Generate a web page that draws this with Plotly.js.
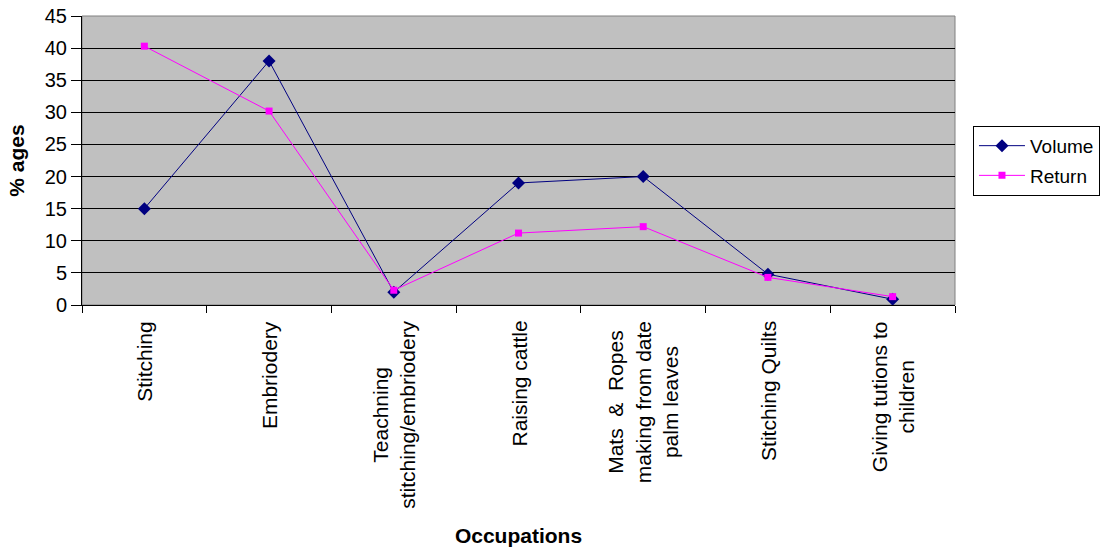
<!DOCTYPE html>
<html>
<head>
<meta charset="utf-8">
<script src="https://cdn.plot.ly/plotly-3.0.1.min.js"></script>
<style>html,body{margin:0;padding:0;background:#fff;}#chart{width:1109px;height:552px;}</style>
</head>
<body>
<div id="chart"></div>
<script>
const categories = ["Stitching", "Embriodery", "Teachning<br>stitching/embriodery", "Raising cattle", "Mats  &  Ropes<br>making from date<br>palm leaves", "Stitching Quilts", "Giving tutions to<br>children"];
const volume = [15, 38, 2, 19, 20, 4.8, 0.9];
const returnVals = [40.3, 30.2, 2.3, 11.2, 12.2, 4.3, 1.3];
const yTicks = [0, 5, 10, 15, 20, 25, 30, 35, 40, 45];

const idx = categories.map((c, i) => i);
const FONT = "Liberation Sans, Arial, sans-serif";

const traces = [
  {x: idx, y: volume, name: "Volume", type: "scatter", mode: "lines+markers",
   line: {color: "#000080", width: 1}, marker: {symbol: "diamond", size: 10, color: "#000080"}, legendgroup: "a"},
  {x: idx, y: returnVals, name: "Return", type: "scatter", mode: "lines+markers",
   line: {color: "#ff00ff", width: 1}, marker: {symbol: "square", size: 7, color: "#ff00ff"}, legendgroup: "b"}
];

const annotations = categories.map((c, i) => ({
  x: i, y: 0, xref: "x", yref: "paper", text: c, showarrow: false,
  textangle: -90, xanchor: "center", yanchor: "top", yshift: -14, align: "center",
  font: {family: FONT, size: 21, color: "#000"}
}));

const layout = {
  width: 1109, height: 552,
  margin: {l: 82, r: 154, t: 16, b: 247, autoexpand: false},
  paper_bgcolor: "#fff", plot_bgcolor: "#c0c0c0",
  font: {family: FONT, size: 21, color: "#000"},
  showlegend: true,
  legend: {x: 1.0206, y: 0.62, xanchor: "left", yanchor: "top", bordercolor: "#000", borderwidth: 1,
           bgcolor: "#fff", font: {family: FONT, size: 19}, tracegroupgap: 2, itemwidth: 46},
  xaxis: {range: [-0.5, 6.5], tickvals: [-0.5, 0.5, 1.5, 2.5, 3.5, 4.5, 5.5, 6.5], showticklabels: false,
          showgrid: false, zeroline: false, showline: true, linecolor: "#000", linewidth: 1,
          ticks: "outside", ticklen: 7, tickcolor: "#000",
          title: {text: "<b>Occupations</b>", font: {family: FONT, size: 21}, standoff: 216}},
  yaxis: {range: [0, 45], tickvals: yTicks, ticktext: yTicks.map(String), showgrid: true, gridcolor: "#000", gridwidth: 1,
          zeroline: false, showline: true, linecolor: "#000", linewidth: 1, ticks: "outside", ticklen: 10, tickcolor: "#000",
          tickfont: {family: FONT, size: 20},
          title: {text: "<b>% ages</b>", font: {family: FONT, size: 21}, standoff: 14}},
  shapes: [{type: "rect", xref: "paper", yref: "paper", x0: 0, x1: 1, y0: 0, y1: 1, line: {color: "#808080", width: 1}, layer: "below"}],
  annotations: annotations
};
Plotly.newPlot("chart", traces, layout, {displayModeBar: false});
</script>
</body>
</html>
